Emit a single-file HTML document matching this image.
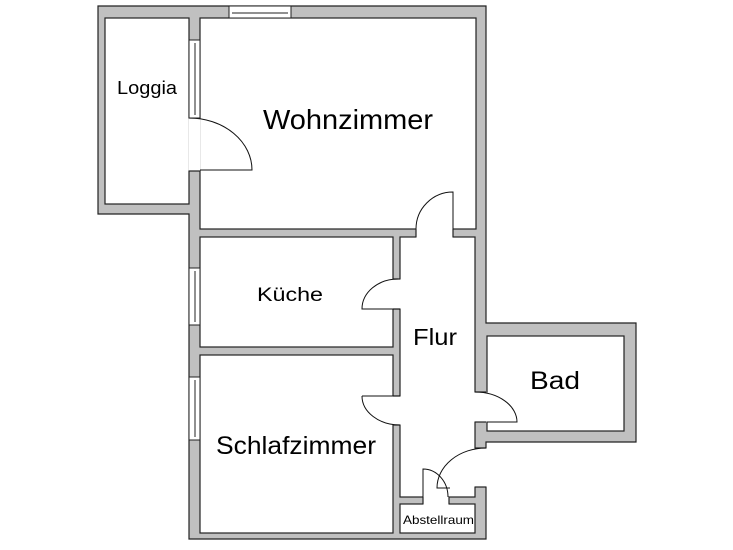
<!DOCTYPE html>
<html><head><meta charset="utf-8"><style>
html,body{margin:0;padding:0;background:#fff;}
svg{display:block;}
text{font-family:"Liberation Sans",sans-serif;fill:#000;}
</style></head><body>
<svg width="733" height="550" viewBox="0 0 733 550" xmlns="http://www.w3.org/2000/svg">
<g stroke="#222" stroke-width="1.2">
<polygon points="98,6 486,6 486,323 636,323 636,442 486,442 486,539 189,539 189,214 98,214" fill="#c0c0c0"/>
<g fill="#fff">
<rect x="105" y="18" width="84" height="186"/>
<rect x="200" y="18" width="276" height="211"/>
<rect x="200" y="237" width="193" height="110"/>
<rect x="200" y="355" width="193" height="178"/>
<rect x="400" y="237" width="75" height="260"/>
<rect x="400" y="504" width="75" height="29"/>
<rect x="487" y="336" width="137" height="95"/>
</g>
</g>
<g fill="#fff" stroke="none">
<rect x="188.5" y="118.5" width="12" height="52"/>
<rect x="416.5" y="228" width="36" height="10"/>
<rect x="392" y="279.5" width="9" height="29"/>
<rect x="392" y="396.5" width="9" height="28"/>
<rect x="474" y="392.5" width="14" height="29"/>
<rect x="474" y="448.5" width="13" height="38"/>
<rect x="423.5" y="496" width="25" height="9"/>
</g>
<g stroke="#222" stroke-width="1.2" fill="none">
<line x1="189" y1="118" x2="200" y2="118"/><line x1="189" y1="171" x2="200" y2="171"/>
<line x1="416" y1="229" x2="416" y2="237"/><line x1="453" y1="229" x2="453" y2="237"/>
<line x1="393" y1="279" x2="400" y2="279"/><line x1="393" y1="309" x2="400" y2="309"/>
<line x1="393" y1="396" x2="400" y2="396"/><line x1="393" y1="425" x2="400" y2="425"/>
<line x1="475" y1="392" x2="486" y2="392"/><line x1="475" y1="422" x2="486" y2="422"/>
<line x1="475" y1="448" x2="486" y2="448"/><line x1="475" y1="487" x2="486" y2="487"/>
<line x1="423" y1="497" x2="423" y2="504"/><line x1="449" y1="497" x2="449" y2="504"/>
</g>
<g stroke="#111" stroke-width="1" fill="none">
<path d="M189,118 A63,52 0 0 1 252,170 L200,170"/>
<path d="M416,229 A37,37 0 0 1 453,192 L453,229"/>
<path d="M398,279 A36,30 0 0 0 362,309 L400,309"/>
<path d="M362,396 L400,396 M362,396 A38,29 0 0 0 400,425"/>
<path d="M475,392 A42,30 0 0 1 517,422 L487,422"/>
<path d="M486,448 A49,40 0 0 0 437,488 L450,488"/>
<path d="M423,497 L423,469 A25,28 0 0 1 448,497"/>
</g>
<g stroke="#222" stroke-width="1" fill="#fff">
<rect x="229" y="6" width="62" height="12"/>
<rect x="189" y="40" width="11" height="78"/>
<rect x="189" y="268" width="11" height="57"/>
<rect x="189" y="377" width="11" height="63"/>
</g>
<g stroke="#222" stroke-width="1">
<line x1="232" y1="13" x2="288" y2="13"/>
<line x1="195" y1="43" x2="195" y2="115"/>
<line x1="195" y1="271" x2="195" y2="322"/>
<line x1="195" y1="380" x2="195" y2="437"/>
</g>
<text x="117" y="94" font-size="18" textLength="60" lengthAdjust="spacingAndGlyphs">Loggia</text>
<text x="263" y="129" font-size="28" textLength="170" lengthAdjust="spacingAndGlyphs">Wohnzimmer</text>
<text x="257" y="301" font-size="19" textLength="66" lengthAdjust="spacingAndGlyphs">Küche</text>
<text x="413" y="345" font-size="23" textLength="44" lengthAdjust="spacingAndGlyphs">Flur</text>
<text x="530" y="389" font-size="25" textLength="50" lengthAdjust="spacingAndGlyphs">Bad</text>
<text x="216" y="454" font-size="25" textLength="160" lengthAdjust="spacingAndGlyphs">Schlafzimmer</text>
<text x="403" y="524" font-size="12" textLength="71" lengthAdjust="spacingAndGlyphs">Abstellraum</text>
</svg>
</body></html>
